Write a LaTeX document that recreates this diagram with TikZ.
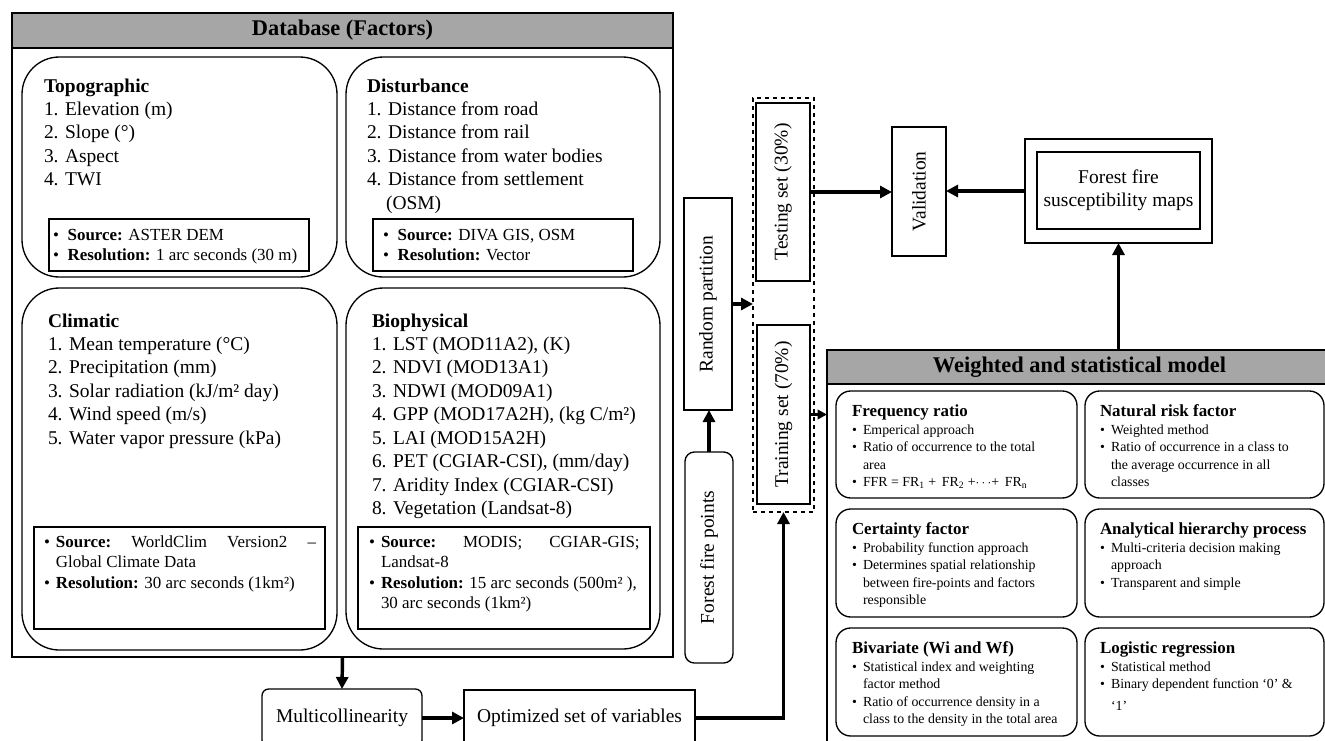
\documentclass[tikz,border=0pt]{standalone}
\usepackage{fontspec}
\setmainfont{Liberation Serif}
\usetikzlibrary{calc,fit,arrows.meta}
\definecolor{hdr}{RGB}{166,166,166}
\newcommand{\fmain}{\fontsize{14.6}{17.6}\selectfont}
\newcommand{\fsrc}{\fontsize{12.7}{15.4}\selectfont}
\newcommand{\fmod}{\fontsize{10.4}{13}\selectfont}
\newcommand{\fmodh}{\fontsize{12.7}{15}\selectfont\bfseries}
\newcommand{\fhead}{\fontsize{16.8}{20}\selectfont\bfseries}
\newcommand{\bl}{\makebox[8.25pt][l]{\textbullet}}
\newcommand{\ct}{\hspace*{8.25pt}}
\newcommand{\bla}{\makebox[11pt][l]{\textbullet}}
\newcommand{\blb}{\makebox[9pt][l]{\textbullet}}
\newcommand{\ctb}{\hspace*{9pt}}
\begin{document}
\begin{tikzpicture}[x=0.75pt,y=-0.75pt,
  every node/.style={inner sep=0pt, outer sep=0pt},
  fbox/.style={draw, line width=1pt},
  catbox/.style={draw, line width=1pt, rounded corners=28pt},
  modbox/.style={draw, line width=1pt, rounded corners=11pt},
  hbar/.style={draw, line width=1pt, fill=hdr},
  htxt/.style={font=\fhead},
  ctxt/.style={font=\fmain, align=center},
  ltxt/.style={anchor=north west, align=left, font=\fmain},
  stxt/.style={anchor=north west, align=left, font=\fsrc},
  mtxt/.style={anchor=north west, align=left, font=\fmod},
  rtxt/.style={rotate=90, font=\fmain},
  arr/.style={line width=2.6pt, -{Triangle[length=9pt,width=9pt]}}]
\useasboundingbox (0,0) rectangle (1325,740);

% ---------------- Database ----------------
\node[fit={(12,13) (673,657)}, fbox] (db) {};
\node[fit={(12,13) (673,48)}, hbar] (dbh) {};
\node[htxt] (dbht) at (dbh.center) {Database (Factors)};

\node[fit={(22,57) (337,277)}, catbox] (topo) {};
\node[fit={(346,57) (660,277)}, catbox] (dist) {};
\node[fit={(22,288) (337,650)}, catbox] (clim) {};
\node[fit={(346,288) (660,649)}, catbox] (bio) {};

\node[ltxt] (topot) at (44,75.6) {\strut\textbf{Topographic}\\1. Elevation (m)\\2. Slope (°)\\3. Aspect\\4. TWI};
\node[ltxt] (distt) at (367,75.6) {\strut\textbf{Disturbance}\\1. Distance from road\\2. Distance from rail\\3. Distance from water bodies\\4. Distance from settlement\\\hspace*{14.3pt}(OSM)};
\node[ltxt] (climt) at (48,310.6) {\strut\textbf{Climatic}\\1. Mean temperature (°C)\\2. Precipitation (mm)\\3. Solar radiation (kJ/m² day)\\4. Wind speed (m/s)\\5. Water vapor pressure (kPa)};
\node[ltxt] (biot) at (372,310.6) {\strut\textbf{Biophysical}\\1. LST (MOD11A2), (K)\\2. NDVI (MOD13A1)\\3. NDWI (MOD09A1)\\4. GPP (MOD17A2H), (kg C/m²)\\5. LAI (MOD15A2H)\\6. PET (CGIAR-CSI), (mm/day)\\7. Aridity Index (CGIAR-CSI)\\8. Vegetation (Landsat-8)};

\node[fit={(49,219) (309,271)}, fbox] (topos) {};
\node[fit={(373,219) (633,271)}, fbox] (dists) {};
\node[fit={(34,527) (325,629)}, fbox] (clims) {};
\node[fit={(358,527) (650,629)}, fbox] (bios) {};

\node[stxt] (topost) at (53,226) {\strut\bla\textbf{Source:} ASTER DEM\\\bla\textbf{Resolution:} 1 arc seconds (30 m)};
\node[stxt] (distst) at (383,226) {\strut\bla\textbf{Source:} DIVA GIS, OSM\\\bla\textbf{Resolution:} Vector};
\node[stxt] (climst) at (44,533) {\strut\makebox[204pt][l]{\blb\textbf{Source:}\hfill WorldClim\hfill Version2\hfill –}\\\ctb Global Climate Data\\\blb\textbf{Resolution:} 30 arc seconds (1km²)};
\node[stxt] (biost) at (369,533) {\strut\makebox[203pt][l]{\blb\textbf{Source:}\hfill MODIS;\hfill CGIAR-GIS;}\\\ctb Landsat-8\\\blb\textbf{Resolution:} 15 arc seconds (500m² ),\\\ctb 30 arc seconds (1km²)};

% ---------------- middle ----------------
\node[fit={(262,689) (422,747)}, fbox, rounded corners=5pt] (mc) {};
\node[ctxt] (mct) at (342,718) {Multicollinearity};
\node[fit={(464,690) (695,746)}, fbox] (opt) {};
\node[ctxt] (optt) at (579.5,718) {Optimized set of variables};

\node[fit={(684,198) (732,410)}, fbox] (rp) {};
\node[rtxt] (rpt) at (rp.center) {Random partition};
\node[fit={(685,452) (733,663)}, fbox, rounded corners=7pt] (ffp) {};
\node[rtxt] (ffpt) at (ffp.center) {Forest fire points};

\node[fit={(753,98) (814,512)}, draw, line width=0.9pt, dashed] (dash) {};
\node[fit={(756,103) (810,281)}, fbox] (test) {};
\node[rtxt] (testt) at (test.center) {Testing set (30\%)};
\node[fit={(757,325) (810,504)}, fbox] (train) {};
\node[rtxt] (traint) at (train.center) {Training set (70\%)};

\node[fit={(892,127) (946,256)}, fbox] (val) {};
\node[rtxt] (valt) at (val.center) {Validation};

\node[fit={(1025,139) (1212,243)}, fbox] (sus) {};
\node[fit={(1037,152) (1200,229)}, fbox] (susi) {};
\node[ctxt] (sust) at (susi.center) {Forest fire\\susceptibility maps};

% ---------------- Weighted model ----------------
\node[fit={(827,350) (1332,760)}, fbox] (wm) {};
\node[fit={(827,350) (1332,384)}, hbar] (wmh) {};
\node[htxt] (wmht) at (1079.5,367) {Weighted and statistical model};

\node[fit={(836,391) (1077,498)}, modbox] (fr) {};
\node[fit={(1085,391) (1324,498)}, modbox] (nr) {};
\node[fit={(836,509) (1077,617)}, modbox] (cf) {};
\node[fit={(1085,509) (1324,617)}, modbox] (ahp) {};
\node[fit={(836,628) (1077,736)}, modbox] (bv) {};
\node[fit={(1085,628) (1324,736)}, modbox] (lr) {};

\node[mtxt] (frt) at ($(fr.north west)+(16,11.5)$) {{\fmodh\strut Frequency ratio}\\[0.6pt]\bl Emperical approach\\\bl Ratio of occurrence to the total\\\ct area\\\bl FFR = FR\textsubscript{1} + \,FR\textsubscript{2} +$\cdots$+ \,FR\textsubscript{n}};
\node[mtxt] (nrt) at ($(nr.north west)+(15,11.5)$) {{\fmodh\strut Natural risk factor}\\[0.6pt]\bl Weighted method\\\bl Ratio of occurrence in a class to\\\ct the average occurrence in all\\\ct classes};
\node[mtxt] (cft) at ($(cf.north west)+(16,11.5)$) {{\fmodh\strut Certainty factor}\\[0.6pt]\bl Probability function approach\\\bl Determines spatial relationship\\\ct between fire-points and factors\\\ct responsible};
\node[mtxt] (ahpt) at ($(ahp.north west)+(15,11.5)$) {{\fmodh\strut Analytical hierarchy process}\\[0.6pt]\bl Multi-criteria decision making\\\ct approach\\\bl Transparent and simple};
\node[mtxt] (bvt) at ($(bv.north west)+(16,11.5)$) {{\fmodh\strut Bivariate (Wi and Wf)}\\[0.6pt]\bl Statistical index and weighting\\\ct factor method\\\bl Ratio of occurrence density in a\\\ct class to the density in the total area};
\node[mtxt] (lrt) at ($(lr.north west)+(15,11.5)$) {{\fmodh\strut Logistic regression}\\[0.6pt]\bl Statistical method\\\bl Binary dependent function ‘0’ \&\\[3pt]\ct ‘1’};

% ---------------- connectors ----------------
\draw[arr] (db.south) -- (mc.north);
\draw[arr] (mc.east) -- (opt.west);
\draw[arr] (opt.east) -| (dash.south);
\draw[arr] (ffp.north) -- (ffp.north |- rp.south);
\draw[arr] (rp.east) -- (rp.east -| dash.west);
\draw[arr] (test.east) -- (test.east -| val.west);
\draw[arr] (sus.west) -- (sus.west -| val.east);
\draw[arr] (sus.south |- wm.north) -- (sus.south);
\draw[arr, line width=2pt, -{Triangle[length=7pt,width=7pt]}] (train.east) -- (train.east -| wm.west);
\end{tikzpicture}
\end{document}
